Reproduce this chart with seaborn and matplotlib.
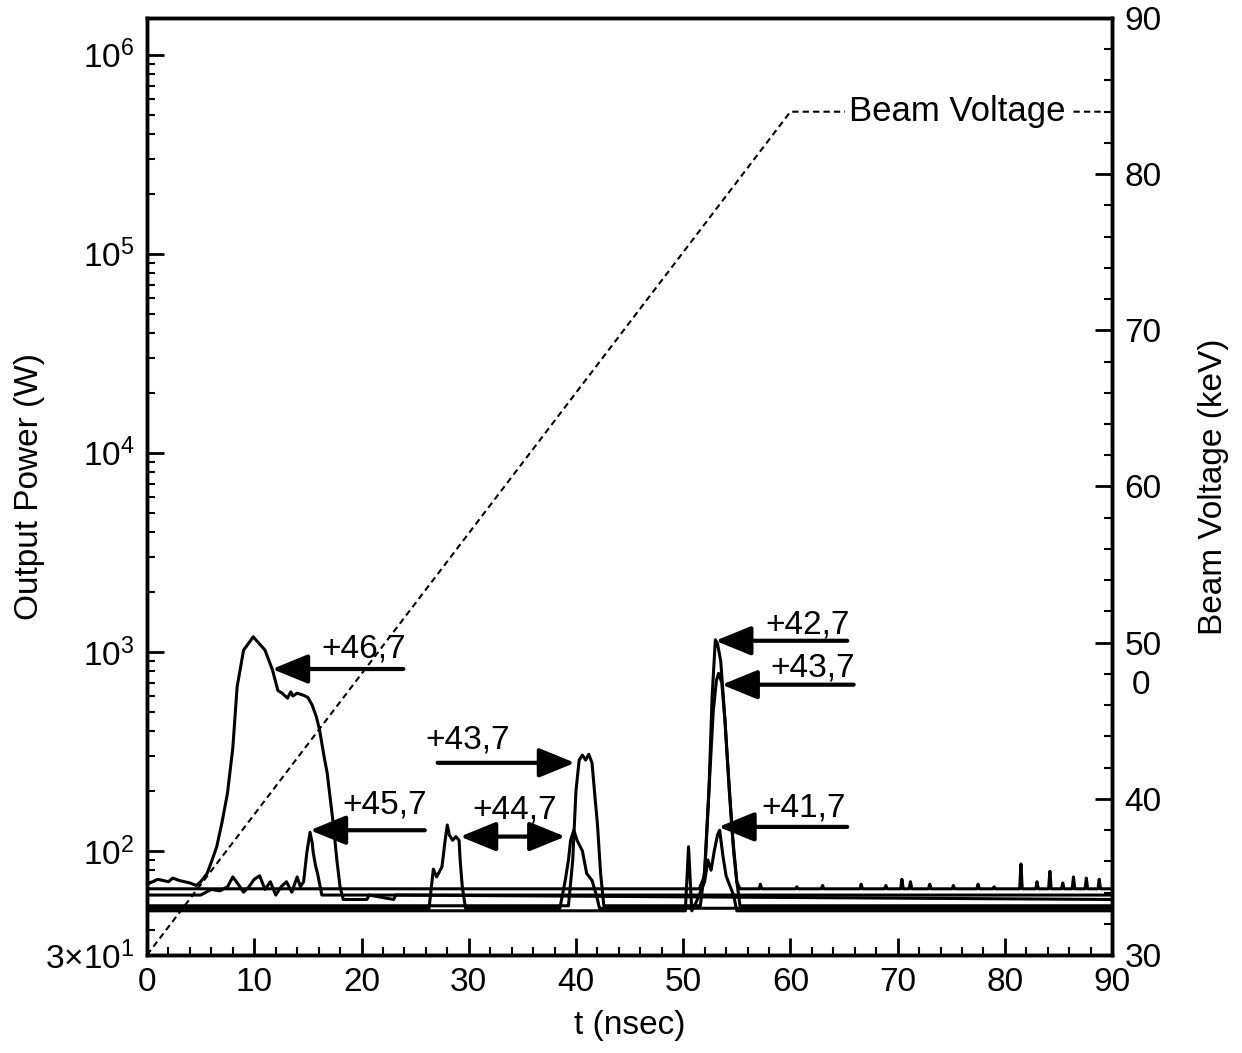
import matplotlib
matplotlib.use('Agg')
import seaborn as sns
from matplotlib import pyplot as plt
from matplotlib.ticker import LogLocator, MultipleLocator, NullFormatter


# power traces: time (nsec) and output power (W)
t_467 = [0, 1, 2, 2.4, 3, 4, 4.6, 5.0, 5.6, 6.0, 6.5, 7.0, 7.5, 8.0, 8.4, 9.0, 9.5, 9.9,
         10.4, 11.0, 11.7, 12.2, 12.6, 13.1, 13.4, 13.6, 14.0, 14.6, 15.0, 15.4, 15.8,
         16.1, 16.5, 16.8, 17.1, 17.4, 17.7, 18.0, 18.3, 20.5, 20.7, 23.0, 23.2, 90]
p_467 = [68, 72, 70, 73, 71, 69, 67, 70, 77, 88, 105, 140, 195, 330, 667, 1020, 1110, 1190,
         1110, 1020, 810, 640, 620, 585, 630, 600, 620, 605, 590, 540, 470,
         402, 300, 246, 180, 132, 90, 66, 57, 57, 60, 57, 60, 57]

t_457 = [0, 5.0, 5.5, 6.0, 6.8, 7.5, 8.0, 8.5, 9.0, 9.5, 10.0, 10.5, 11.0, 11.5, 12.0, 12.5,
         13.0, 13.5, 14.0, 14.3, 14.6, 14.9, 15.2, 15.4, 15.5, 15.7, 15.9, 16.1, 16.3, 90]
p_457 = [60, 60, 62, 64, 63, 66, 74, 68, 62, 66, 72, 75, 64, 70, 60, 66,
         70, 62, 74, 66, 70, 98, 124, 110, 98, 85, 77, 68, 60, 60]

t_447 = [0, 26.3, 26.7, 27.0, 27.5, 27.8, 28.0, 28.2, 28.5, 28.8, 29.1, 29.2, 29.4, 29.7,
         38.5, 39.0, 39.3, 39.5, 39.8, 40.1, 40.4, 40.6, 41.0, 41.5, 41.9, 42.2, 90]
p_447 = [51.5, 51.5, 81, 74, 83, 113, 135, 120, 113, 118, 113, 90, 66, 51.5,
         51.5, 71, 90, 113, 127, 113, 105, 100, 77, 71, 60, 51.5, 51.5]

t_437 = [0, 39.3, 39.7, 40.0, 40.3, 40.6, 40.9, 41.2, 41.5, 41.8, 42.0, 42.3, 42.6,
         51.6, 52.0, 52.4, 52.8, 53.1, 53.3, 53.6, 53.9, 54.2, 54.6, 55.0, 55.3, 90]
p_437 = [53, 53, 90, 200, 286, 303, 286, 306, 276, 180, 137, 77, 53,
         53, 80, 200, 500, 720, 780, 700, 450, 250, 120, 70, 53, 53]

t_427 = [0, 51.5, 52.0, 52.4, 52.7, 53.0, 53.2, 53.5, 53.9, 54.3, 54.7, 55.0, 55.3]
p_427 = [64.5, 64.5, 75, 200, 600, 1150, 1100, 900, 450, 200, 100, 70, 64.5]
# small spikes on the top baseline after 55 ns
spike_t = [57.2, 60.6, 63.0, 66.6, 68.9, 70.4, 71.2, 73.0, 75.2, 77.5, 79.0, 81.5, 83.0,
           84.2, 85.4, 86.4, 87.6, 88.8]
spike_p = [68, 66, 67, 68, 67, 72, 70, 68, 67, 68, 66, 86, 70, 79, 69, 74, 73, 72]

t_417 = [0, 50.2, 50.5, 50.8, 51.2, 52.0, 52.3, 52.6, 52.9, 53.2, 53.4, 53.7, 54.0, 54.3,
         54.7, 55.0, 90]
p_417 = [50, 50, 105, 50, 55, 70, 90, 80, 100, 120, 127, 95, 75, 68, 60, 50, 50]

# beam voltage ramp (keV)
t_volt = [0, 60, 89]
v_volt = [30, 84, 84]

# labels: text, text position, arrow tail, arrow tip
labels = ['+46,7', '+45,7', '+43,7', '+42,7', '+43,7', '+41,7']
label_xy = [(20.2, 1030), (22.2, 170), (29.9, 361), (61.6, 1365), (62.1, 829), (61.2, 164)]
arrow_tail = [(23.9, 820), (25.9, 127), (27.1, 277), (65.3, 1137), (65.9, 684), (65.3, 132)]
arrow_tip = [(11.66, 820), (15.2, 127), (39.9, 277), (53.0, 1137), (53.6, 684), (53.3, 132)]


def main():
    sns.set_style('ticks')
    plt.rcParams['font.family'] = ['Liberation Sans', 'DejaVu Sans']
    plt.rcParams['mathtext.fontset'] = 'custom'
    plt.rcParams['mathtext.rm'] = 'Liberation Sans'
    plt.rcParams['mathtext.it'] = 'Liberation Sans:italic'
    for key in ('text.color', 'axes.labelcolor', 'xtick.color', 'ytick.color'):
        plt.rcParams[key] = 'black'

    fig = plt.figure(figsize=(12.42, 10.53), dpi=100)
    ax = fig.add_axes([0.1184, 0.0931, 0.777, 0.8898])

    # top baseline trace with its spikes
    t_top, p_top = list(t_427), list(p_427)
    for st, sp in zip(spike_t, spike_p):
        t_top += [st - 0.12, st, st + 0.12]
        p_top += [64.5, sp, 64.5]
    t_top.append(90)
    p_top.append(64.5)

    traces = [(t_467, p_467), (t_457, p_457), (t_447, p_447),
              (t_437, p_437), (t_top, p_top), (t_417, p_417)]
    for tt, pp in traces:
        sns.lineplot(x=tt, y=pp, ax=ax, color='black', lw=2.2, estimator=None, sort=False)

    ax.set_yscale('log')
    ax.set_xlim(0, 90)
    ax.set_ylim(30, 1.53e6)

    head = '-|>,head_length=1.1,head_width=0.45'
    for lab, (tx, ty) in zip(labels, label_xy):
        ax.text(tx, ty, lab, ha='center', va='center', fontsize=24)
    for tail, tip in zip(arrow_tail, arrow_tip):
        ax.annotate('', xy=tip, xytext=tail,
                    arrowprops=dict(arrowstyle=head, lw=3, color='black', mutation_scale=20,
                                    shrinkA=0, shrinkB=0))
    # double arrow for +44,7
    ax.text(34.3, 160, '+44,7', ha='center', va='center', fontsize=24)
    ax.annotate('', xy=(39.0, 118), xytext=(29.2, 118),
                arrowprops=dict(arrowstyle='<|-|>,head_length=1.1,head_width=0.45',
                                lw=3, color='black', mutation_scale=20,
                                shrinkA=0, shrinkB=0))

    ax.set_yticks([30, 1e2, 1e3, 1e4, 1e5, 1e6])
    ax.set_yticklabels(['3×10$^{1}$', '10$^{2}$', '10$^{3}$', '10$^{4}$', '10$^{5}$', '10$^{6}$'])
    ax.yaxis.set_minor_locator(LogLocator(base=10, subs=[2, 3, 4, 5, 6, 7, 8, 9], numticks=20))
    ax.yaxis.set_minor_formatter(NullFormatter())
    ax.xaxis.set_major_locator(MultipleLocator(10))
    ax.xaxis.set_minor_locator(MultipleLocator(2))

    ax.tick_params(which='major', direction='in', length=12, width=2, labelsize=24, pad=9,
                   top=False, right=False)
    ax.tick_params(which='minor', direction='in', length=6, width=1.5, top=False, right=False)

    ax.set_xlabel('t (nsec)', fontsize=24, labelpad=8)
    ax.set_ylabel('Output Power (W)', fontsize=24, labelpad=0)

    ax2 = ax.twinx()
    sns.lineplot(x=t_volt, y=v_volt, ax=ax2, color='black', lw=1.5, linestyle='--',
                 estimator=None, sort=False)
    ax2.lines[0].set_dashes((3, 2))
    ax2.set_ylim(30, 90)
    ax2.yaxis.set_major_locator(MultipleLocator(10))
    ax2.yaxis.set_minor_locator(MultipleLocator(2))
    ax2.tick_params(which='major', direction='in', length=12, width=2, labelsize=24, pad=9)
    ax2.tick_params(which='minor', direction='in', length=6, width=1.5)
    ax2.set_ylabel('Beam Voltage (keV)', fontsize=24, labelpad=26)
    ax2.text(75.6, 84, 'Beam Voltage', ha='center', va='center', fontsize=25, zorder=5,
             bbox=dict(fc='white', ec='none', pad=3))
    # stray "0" printed just under the 50 label in the original
    ax2.text(1.02, 0.288, '0', transform=ax2.transAxes, ha='left', va='center', fontsize=24)

    for a in (ax, ax2):
        for sp in a.spines.values():
            sp.set_linewidth(2.5)
            sp.set_color('black')

    fig.savefig('out.png', dpi=100)


if __name__ == '__main__':
    main()
